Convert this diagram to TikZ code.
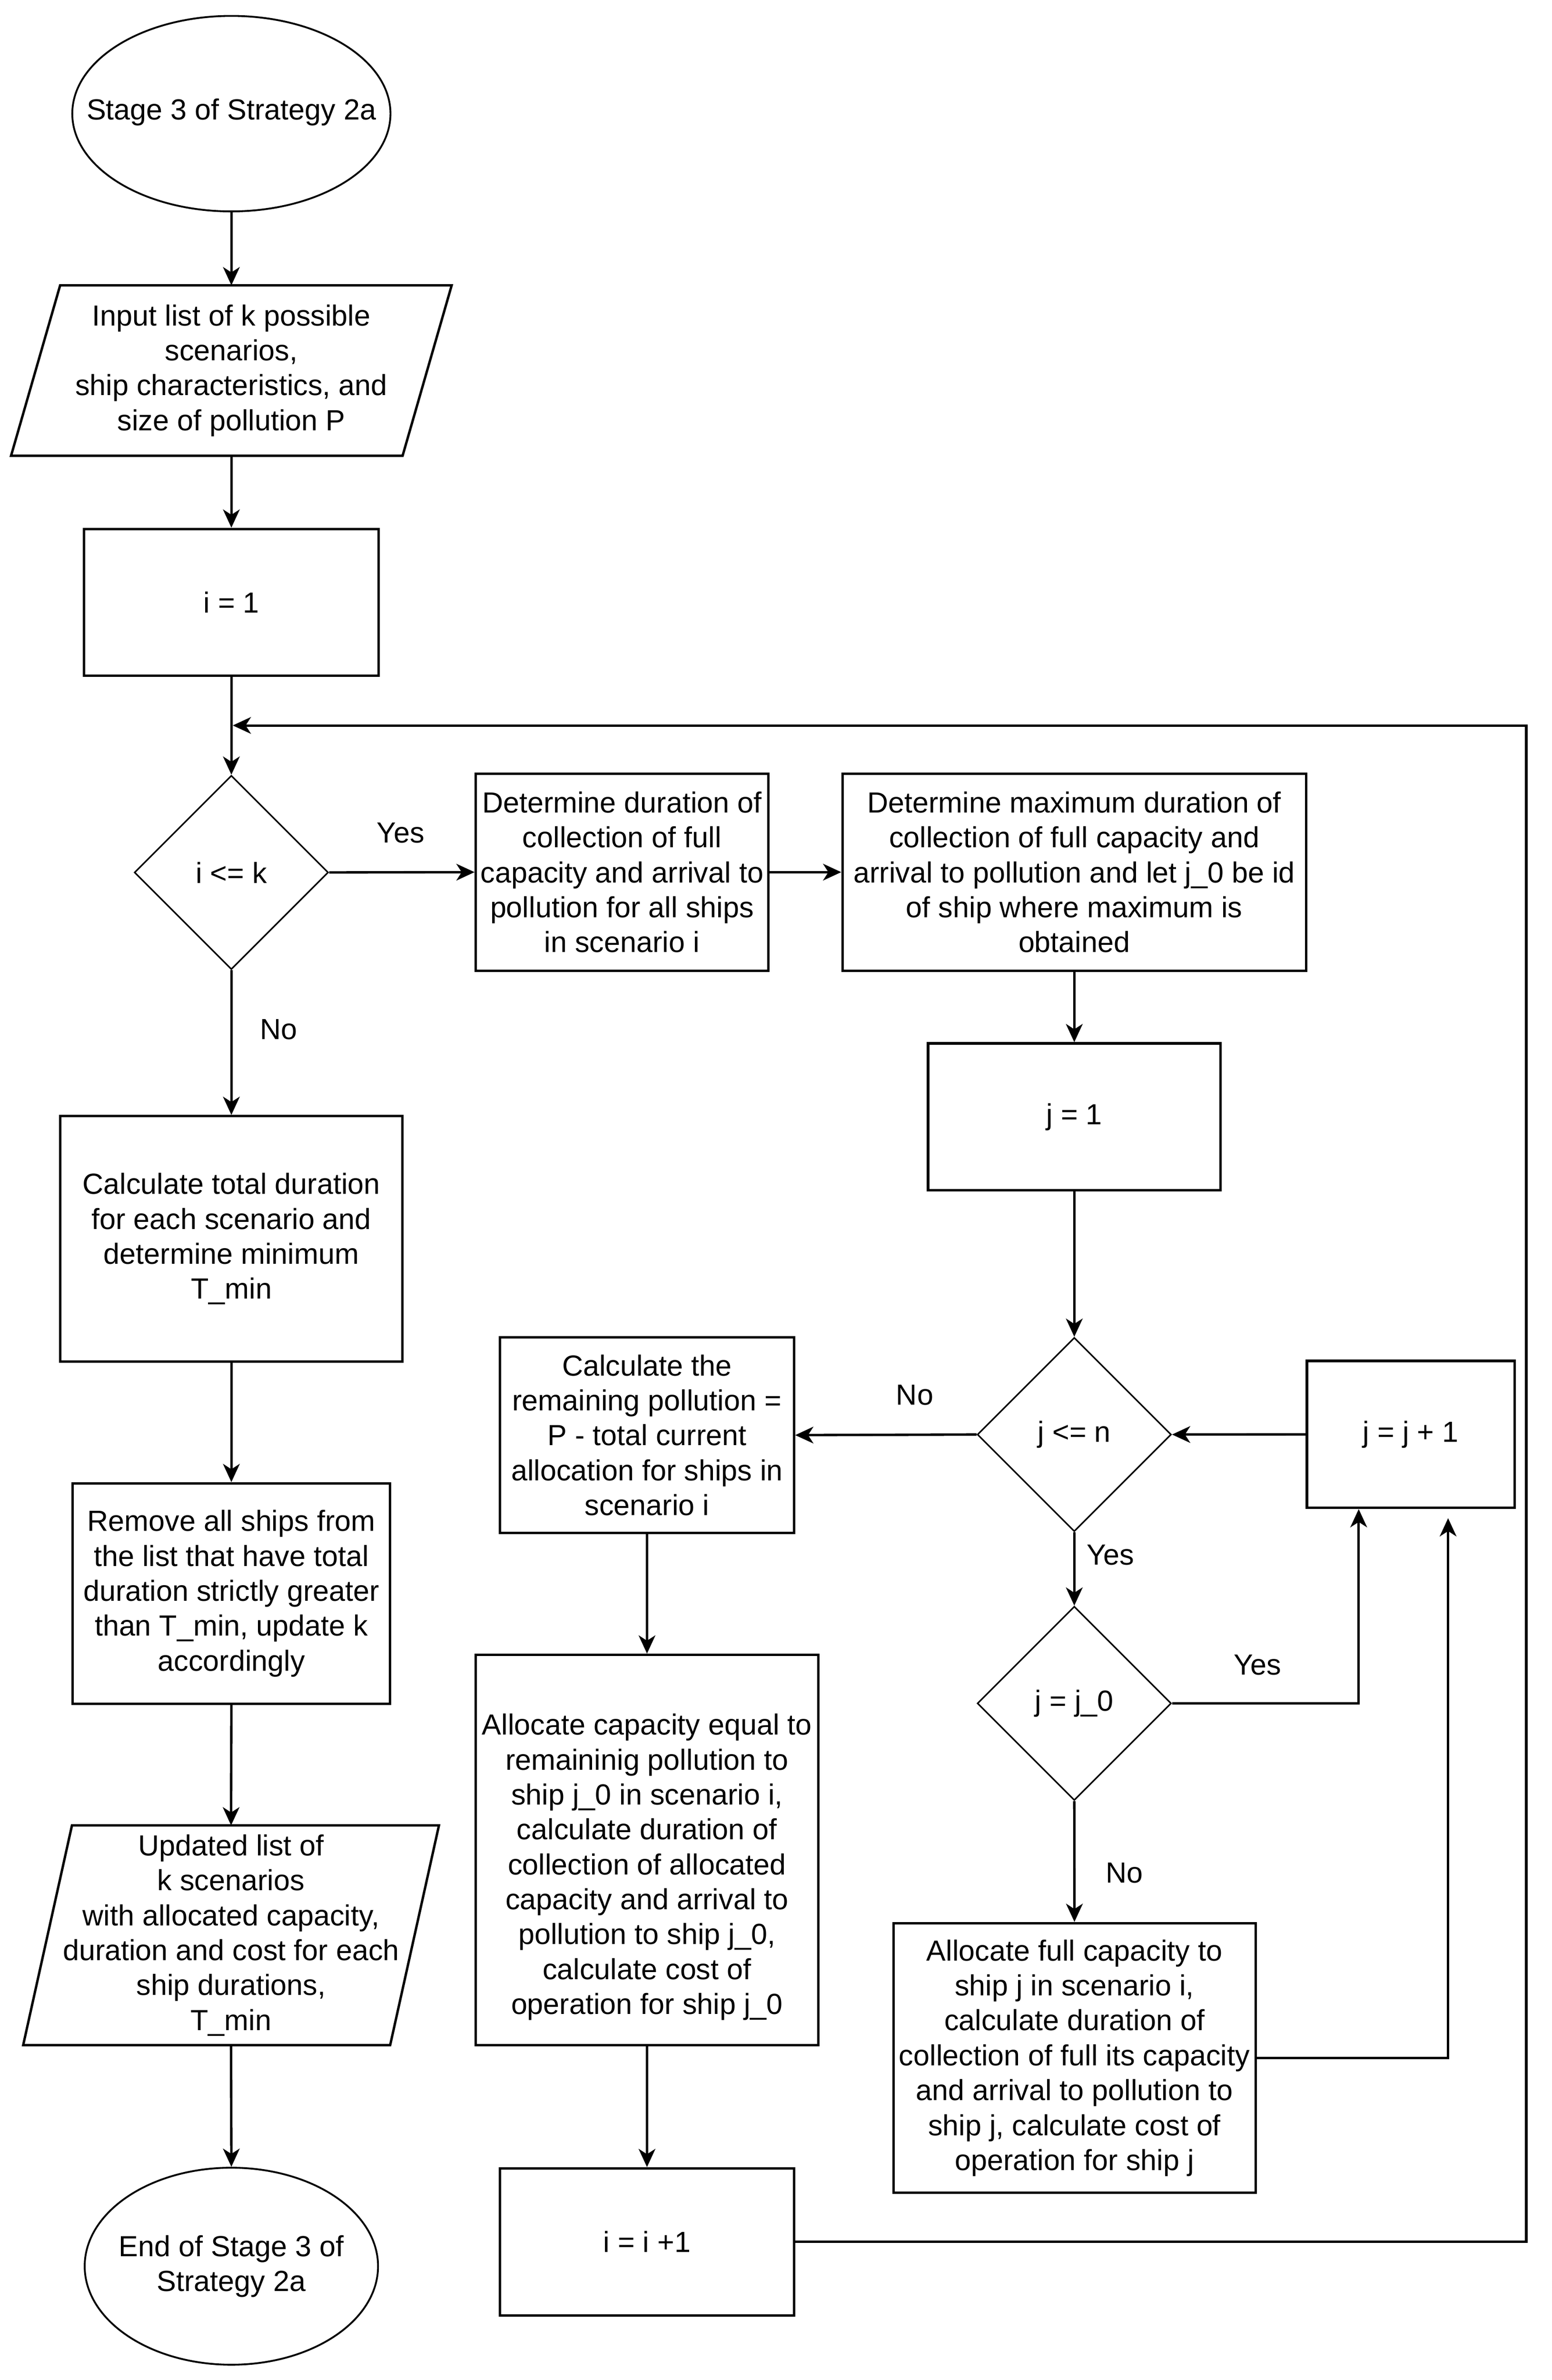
\documentclass[tikz,border=0pt]{standalone}
\usepackage{fontspec}
\setmainfont{Liberation Sans}
\usetikzlibrary{shapes.geometric,arrows.meta,calc}
\newcommand\flowfont{\fontsize{19.2}{23.04}\selectfont}
\begin{document}
\begin{tikzpicture}[x=1pt,y=-1pt,
  box/.style={draw, rectangle, line width=1.6pt, inner sep=2pt, align=center, font=\flowfont},
  dia/.style={draw, diamond, line width=1.0pt, inner sep=0pt, aspect=1, minimum width=128pt, minimum height=128pt, align=center, font=\flowfont},
  ell/.style={draw, ellipse, line width=1.2pt, inner sep=0pt},
  pframe/.style={rectangle, draw=none, inner sep=0pt, outer sep=0pt, align=center, font=\flowfont},
  txt/.style={inner sep=0pt, align=center, font=\flowfont},
  lbl/.style={inner sep=0pt, font=\flowfont},
  arr/.style={line width=1.6pt, -{Stealth[length=12pt,width=11pt,inset=3.5pt]}}
]
\fill[white] (0,0) rectangle (1024,1570.5);
\useasboundingbox (0,0) rectangle (1024,1570.5);

% ---------------- left column ----------------
\node[ell, minimum width=210pt, minimum height=129pt] (start) at (152.7,75) {};
\node[txt] (startT) at (152.7,74) {Stage 3 of Strategy 2a};

\node[pframe, minimum width=290.8pt, minimum height=112.5pt] (input) at (152.7,244.5)
  {Input list of k possible\\ scenarios,\\ ship characteristics, and\\ size of pollution P};
\draw[line width=1.6pt] ([xshift=32.4pt]input.north west) -- (input.north east)
  -- ([xshift=-32.4pt]input.south east) -- (input.south west) -- cycle;

\node[box, minimum width=194.4pt, minimum height=97pt] (i1) at (152.7,397.5) {i = 1};

\node[dia] (ik) at (152.7,575.7) {i <= k};

\node[box, minimum width=226pt, minimum height=162pt] (calctot) at (152.7,817.5)
  {Calculate total duration\\ for each scenario and\\ determine minimum\\ T\_min};

\node[box, minimum width=209.6pt, minimum height=145.4pt] (remove) at (152.7,1051.5)
  {Remove all ships from\\ the list that have total\\ duration strictly greater\\ than T\_min, update k\\ accordingly};

\node[pframe, minimum width=274.4pt, minimum height=145pt] (updated) at (152.5,1277)
  {Updated list of\\ k scenarios\\ with allocated capacity,\\ duration and cost for each\\ ship durations,\\ T\_min};
\draw[line width=1.6pt] ([xshift=32.2pt]updated.north west) -- (updated.north east)
  -- ([xshift=-32.2pt]updated.south east) -- (updated.south west) -- cycle;

\node[ell, minimum width=193.6pt, minimum height=130pt] (endnode) at (152.7,1495.4) {};
\node[txt] (endT) at (152.7,1495.4) {End of Stage 3 of\\ Strategy 2a};

% ---------------- top row ----------------
\node[box, minimum width=193pt, minimum height=130pt] (det1) at (410.5,575.5)
  {Determine duration of\\ collection of full\\ capacity and arrival to\\ pollution for all ships\\ in scenario i};

\node[box, minimum width=306pt, minimum height=130pt] (det2) at (709,575.5)
  {Determine maximum duration of\\ collection of full capacity and\\ arrival to pollution and let j\_0 be id\\ of ship where maximum is\\ obtained};

% ---------------- right part ----------------
\node[box, minimum width=193pt, minimum height=97pt] (j1) at (709,737) {j = 1};

\node[dia] (jn) at (709,946.6) {j <= n};

\node[box, minimum width=137pt, minimum height=97pt] (jinc) at (931,946.5) {j = j + 1};

\node[box, minimum width=194pt, minimum height=129pt] (calcrem) at (427,947)
  {Calculate the\\ remaining pollution =\\ P - total current\\ allocation for ships in\\ scenario i};

\node[dia] (jj0) at (709,1124) {j = j\_0};

\node[box, minimum width=239pt, minimum height=178pt] (allocfull) at (709.1,1358)
  {Allocate full capacity to\\ ship j in scenario i,\\ calculate duration of\\ collection of full its capacity\\ and arrival to pollution to\\ ship j, calculate cost of\\ operation for ship j};

\node[box, minimum width=226pt, minimum height=257.5pt] (alloccap) at (427,1220.7) {};
\node[txt] (alloccapT) at (427,1232)
  {Allocate capacity equal to\\ remaininig pollution to\\ ship j\_0 in scenario i,\\ calculate duration of\\ collection of allocated\\ capacity and arrival to\\ pollution to ship j\_0,\\ calculate cost of\\ operation for ship j\_0};

\node[box, minimum width=194pt, minimum height=97pt] (iinc) at (427,1479.3) {i = i +1};

% ---------------- labels ----------------
\node[lbl] (yes1) at (264.4,549.5) {Yes};
\node[lbl] (no1) at (184,679.3) {No};
\node[lbl] (no2) at (603.7,920.7) {No};
\node[lbl] (yes2) at (732.9,1026.2) {Yes};
\node[lbl] (yes3) at (829.8,1098.5) {Yes};
\node[lbl] (no3) at (742.1,1236) {No};

% ---------------- connectors ----------------
\coordinate (loopTR) at (1007.3,478.7);
\coordinate (loopIn) at (153.6,478.7);

\draw[arr] (start.south) -- (input.north);
\draw[arr] (input.south) -- (i1.north);
\draw[arr] (i1.south) -- (ik.north);
\draw[arr] (iinc.east) -| (loopTR) -- (loopIn);
\draw[arr] (ik.east) -- (det1.west);
\draw[arr] (ik.south) -- (calctot.north);
\draw[arr] (calctot.south) -- (remove.north);
\draw[arr] (remove.south) -- (updated.north);
\draw[arr] (updated.south) -- (endnode.north);
\draw[arr] (det1.east) -- (det2.west);
\draw[arr] (det2.south) -- (j1.north);
\draw[arr] (j1.south) -- (jn.north);
\draw[arr] (jn.west) -- (calcrem.east);
\draw[arr] (jinc.west) -- (jn.east);
\draw[arr] (jn.south) -- (jj0.north);
\draw[arr] (jj0.east) -| ([xshift=-34.3pt]jinc.south);
\draw[arr] (jj0.south) -- (allocfull.north);
\draw[arr] (allocfull.east) -| ([xshift=24.7pt,yshift=-6pt]jinc.south);
\draw[arr] (calcrem.south) -- (alloccap.north);
\draw[arr] (alloccap.south) -- (iinc.north);
\end{tikzpicture}
\end{document}
